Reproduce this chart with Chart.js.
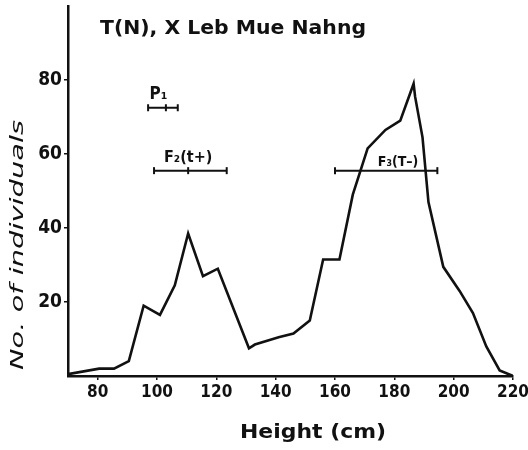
<!DOCTYPE html>
<html>
<head>
<meta charset="utf-8">
<title>T(N), X Leb Mue Nahng</title>
<script src="https://cdn.jsdelivr.net/npm/chart.js@4.4.1/dist/chart.umd.min.js"></script>
<style>
  html, body { margin: 0; padding: 0; background: #fff; }
  #wrap { position: relative; width: 528px; height: 450px; }
</style>
</head>
<body>
<div id="wrap"><canvas id="chart" width="528" height="450"></canvas></div>
<script>
// Frequency distribution of plant height
const heights = [70, 80.5, 85.5, 90.5, 95.5, 101, 106, 110.5, 115.5, 120.5, 131, 133, 141, 146, 151.5,
  156, 161.5, 166, 171, 177, 182, 186.5, 187, 189.5, 191.5, 196.5, 202, 206.5, 211, 215.5, 220];
const counts = [0.5, 2, 2, 4, 19, 16.5, 24.5, 38.5, 27, 29, 7.5, 8.5, 10.5, 11.5, 15,
  31.5, 31.5, 49, 61.5, 66.5, 69, 79, 75.5, 64.5, 47, 29.5, 23, 17, 8, 1.5, 0];

// range bars (parents / F2 classes)
const rangeNames = ['P₁', 'F₂(t+)', 'F₃(T–)'];
const rangeFrom = [97, 99, 160];
const rangeTo = [107, 123.5, 194.5];
const rangeMid = [103, 110.5, null];
const rangeLevel = [72.5, 55.5, 55.5];

const xTickValues = [80, 100, 120, 140, 160, 180, 200, 220];
const yTickValues = [20, 40, 60, 80];

const INK = '#111';
const FONT = "'Liberation Sans Narrow', 'DejaVu Sans Condensed', 'DejaVu Sans', sans-serif";

const lineData = heights.map((h, i) => ({ x: h, y: counts[i] }));

const rangeSets = rangeNames.map((name, i) => {
  const pts = [{ x: rangeFrom[i], y: rangeLevel[i] }];
  if (rangeMid[i] != null) pts.push({ x: rangeMid[i], y: rangeLevel[i] });
  pts.push({ x: rangeTo[i], y: rangeLevel[i] });
  return {
    label: name,
    data: pts,
    borderColor: INK,
    borderWidth: 2,
    pointStyle: 'line',
    rotation: 90,
    pointRadius: 3.5,
    pointBorderWidth: 2,
    pointBorderColor: INK,
    tension: 0
  };
});

// draw text squeezed/stretched to a given width
function fitText(ctx, text, x, y, width, font, align) {
  ctx.save();
  ctx.font = font;
  const w = ctx.measureText(text).width;
  ctx.translate(x, y);
  ctx.scale(width / w, 1);
  ctx.textAlign = align || 'center';
  ctx.fillText(text, 0, 0);
  ctx.restore();
}

const labelPlugin = {
  id: 'labels',
  afterDraw(chart) {
    const ctx = chart.ctx;
    const xs = chart.scales.x, ys = chart.scales.y;
    ctx.save();
    ctx.fillStyle = INK;
    ctx.textBaseline = 'middle';
    fitText(ctx, 'T(N), X Leb Mue Nahng', 233, 29, 266, "bold 19px 'DejaVu Sans', sans-serif");
    fitText(ctx, 'Height (cm)', 313, 433, 146, "bold 19px 'DejaVu Sans', sans-serif");

    // y axis title
    ctx.save();
    ctx.translate(18, 245);
    ctx.rotate(-Math.PI / 2);
    fitText(ctx, 'No. of individuals', 0, 0, 250, "italic 18px 'DejaVu Sans', sans-serif");
    ctx.restore();

    // names of the range bars
    ctx.textBaseline = 'bottom';
    const sizes = [17, 16, 14];
    rangeNames.forEach((name, i) => {
      const mid = rangeMid[i] != null ? rangeMid[i] : (rangeFrom[i] + rangeTo[i]) / 2 + 4;
      const px = xs.getPixelForValue(i === 0 ? 100.5 : mid);
      const py = ys.getPixelForValue(rangeLevel[i]) - (i === 2 ? 1 : 5);
      ctx.font = 'bold ' + sizes[i] + 'px ' + FONT;
      ctx.textAlign = 'center';
      ctx.fillText(name, px, py);
    });
    ctx.restore();
  }
};

new Chart(document.getElementById('chart'), {
  type: 'line',
  data: {
    datasets: [
      {
        label: 'No. of individuals',
        data: lineData,
        borderColor: INK,
        borderWidth: 2.6,
        pointRadius: 0,
        tension: 0
      },
      ...rangeSets
    ]
  },
  options: {
    responsive: false,
    animation: false,
    layout: { padding: { top: 5, right: 15, left: 0, bottom: 0 } },
    plugins: {
      legend: { display: false },
      tooltip: { enabled: false }
    },
    scales: {
      x: {
        type: 'linear',
        min: 70,
        max: 220,
        afterBuildTicks: s => { s.ticks = xTickValues.map(v => ({ value: v })); },
        afterFit: s => { s.height = 74; s.paddingLeft = 0; s.paddingRight = 0; },
        grid: { display: true, drawOnChartArea: false, color: INK, tickLength: 4, lineWidth: 1.5 },
        border: { display: true, color: INK, width: 2.5 },
        ticks: { color: INK, padding: 2, maxRotation: 0, font: { family: FONT, size: 17, weight: 'bold' } }
      },
      y: {
        min: 0,
        max: 100,
        afterBuildTicks: s => { s.ticks = yTickValues.map(v => ({ value: v })); },
        afterFit: s => { s.width = 68; s.paddingTop = 0; s.paddingBottom = 0; },
        grid: { display: true, drawOnChartArea: false, color: INK, tickLength: 4, lineWidth: 1.5 },
        border: { display: true, color: INK, width: 2.5 },
        ticks: { color: INK, padding: 2, font: { family: FONT, size: 19, weight: 'bold' } }
      }
    }
  },
  plugins: [labelPlugin]
});
</script>
</body>
</html>
